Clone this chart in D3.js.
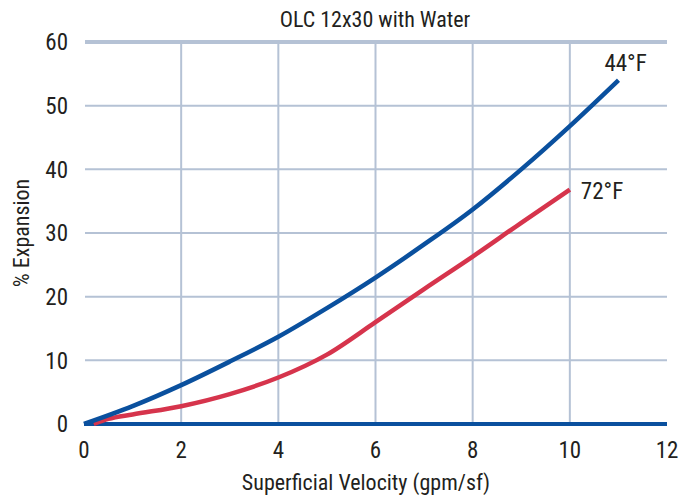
<!DOCTYPE html>
<html><head><meta charset="utf-8">
<script src="https://cdn.jsdelivr.net/npm/d3@7"></script>
<style>body{margin:0;background:#fff}svg{display:block}text{font-family:"Liberation Sans Narrow","Roboto Condensed","Arial Narrow",sans-serif;fill:#231f20}</style>
</head><body><svg id="c" width="695" height="497"></svg>
<script>
const title = "OLC 12x30 with Water";
const xTicks = [0,2,4,6,8,10,12];
const yTicks = [0,10,20,30,40,50,60];
const x44 = [0,1,2,3,4,5,6,7,8,9,10,11];
const y44 = [0,2.8,6.1,9.8,13.7,18.2,23.0,28.2,33.7,40.0,46.8,54.0];
const x72 = [0.2,0.5,1,2,3,4,5,6,7,8,9,10];
const y72 = [0,0.8,1.5,2.8,4.7,7.3,10.9,16.0,21.2,26.3,31.6,36.8];
const seriesNames = ["44°F","72°F"];

const svg = d3.select("#c");
const x = d3.scaleLinear().domain([0,12]).range([84,667]);
const y = d3.scaleLinear().domain([0,60]).range([424,42]);
const grid = "#b5c2d5";

svg.append("g").selectAll("line").data(xTicks.filter(d=>d>0&&d<12)).join("line")
  .attr("x1",d=>x(d)).attr("x2",d=>x(d)).attr("y1",y(60)).attr("y2",y(0))
  .attr("stroke",grid).attr("stroke-width",2);
svg.append("g").selectAll("line").data(yTicks.filter(d=>d>0)).join("line")
  .attr("x1",x(0)+1).attr("x2",x(12)).attr("y1",d=>y(d)).attr("y2",d=>y(d))
  .attr("stroke",grid).attr("stroke-width",d=>d===60?4:2);
svg.append("line").attr("x1",x(0)).attr("x2",x(12)).attr("y1",y(0)).attr("y2",y(0))
  .attr("stroke","#0a509e").attr("stroke-width",4);

svg.append("g").selectAll("text").data(yTicks).join("text")
  .attr("x",68).attr("y",d=>y(d)).attr("dy","0.36em").attr("text-anchor","end")
  .attr("font-size",23).text(d=>d);
svg.append("g").selectAll("text").data(xTicks).join("text")
  .attr("x",d=>x(d)).attr("y",458).attr("text-anchor","middle")
  .attr("font-size",23).text(d=>d);

svg.append("text").attr("x",375).attr("y",27).attr("text-anchor","middle").attr("font-size",22).text(title);
svg.append("text").attr("x",366).attr("y",490).attr("text-anchor","middle").attr("font-size",22).text("Superficial Velocity (gpm/sf)");
svg.append("text").attr("transform","translate(29,233) rotate(-90)").attr("text-anchor","middle").attr("font-size",22).text("% Expansion");

const line = d3.line().x(d=>x(d[0])).y(d=>y(d[1])).curve(d3.curveMonotoneX);
svg.append("path").datum(x72.map((v,i)=>[v,y72[i]])).attr("d",line)
  .attr("fill","none").attr("stroke","#d6344c").attr("stroke-width",4.5);
svg.append("path").datum(x44.map((v,i)=>[v,y44[i]])).attr("d",line)
  .attr("fill","none").attr("stroke","#0a509e").attr("stroke-width",4.5);

svg.append("text").attr("x",x(11)-14).attr("y",y(54)-9).attr("font-size",23).text(seriesNames[0]);
svg.append("text").attr("x",x(10)+11).attr("y",y(36.8)+9).attr("font-size",23).text(seriesNames[1]);
</script></body></html>
